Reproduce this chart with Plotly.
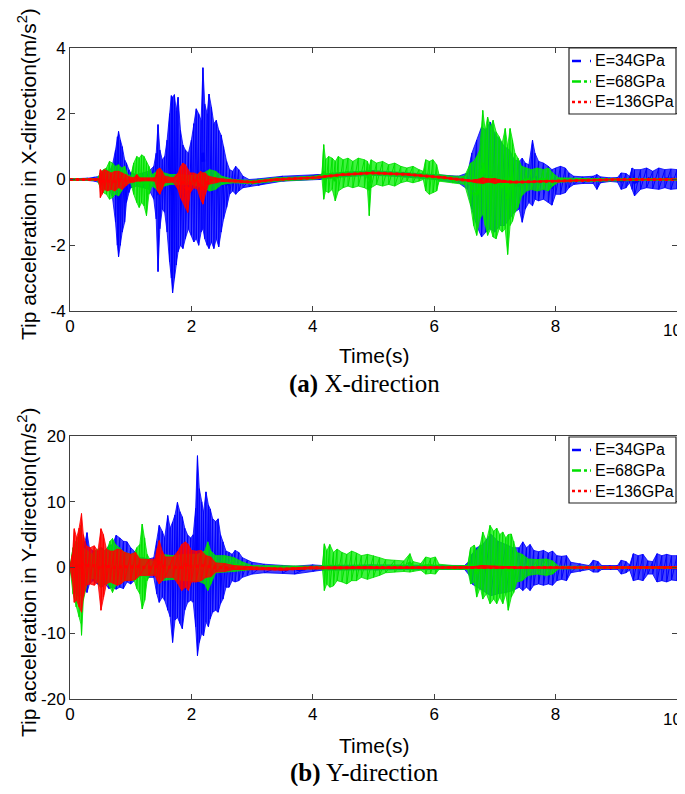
import plotly.graph_objects as go

# ---------------- data ----------------
# each row: (time s, upper envelope, lower envelope)
SERIES_NAMES = ["E=34GPa", "E=68GPa", "E=136GPa"]
X_TICKS = [0, 2, 4, 6, 8, 10]
X_TICK_TEXT = ["0", "2", "4", "6", "8", "10"]
YA_TICKS = [-4, -2, 0, 2, 4]
YA_TICK_TEXT = ["-4", "-2", "0", "2", "4"]
YB_TICKS = [-20, -10, 0, 10, 20]
YB_TICK_TEXT = ["-20", "-10", "0", "10", "20"]

X34 = [
    (0.00, 0.02, -0.02), (0.30, 0.04, -0.03), (0.40, 0.07, -0.05), (0.50, 0.10, -0.10),
    (0.55, 0.25, -0.20), (0.60, 0.30, -0.35), (0.65, 0.25, -0.30), (0.70, 0.45, -0.55),
    (0.75, 0.90, -1.30), (0.78, 1.30, -2.00), (0.80, 1.46, -2.35), (0.83, 1.20, -2.00),
    (0.86, 1.00, -1.60), (0.90, 0.60, -1.30), (0.93, 0.50, -0.70), (0.97, 0.30, -0.40),
    (1.00, 0.20, -0.25), (1.10, 0.15, -0.20), (1.20, 0.20, -0.25), (1.30, 0.25, -0.30),
    (1.38, 0.40, -0.60), (1.42, 0.80, -1.20), (1.45, 1.67, -2.80), (1.48, 0.90, -1.50),
    (1.52, 0.60, -0.90), (1.56, 0.70, -1.00), (1.60, 1.20, -1.60), (1.64, 2.00, -2.50),
    (1.67, 2.55, -3.00), (1.69, 2.50, -3.45), (1.72, 2.58, -3.00), (1.75, 2.10, -2.60),
    (1.78, 2.50, -2.20), (1.82, 1.50, -2.00), (1.86, 1.05, -2.10), (1.90, 0.90, -1.80),
    (1.95, 0.80, -1.50), (2.00, 1.20, -1.70), (2.04, 1.70, -1.90), (2.08, 2.15, -1.80),
    (2.12, 2.00, -2.00), (2.16, 1.80, -1.60), (2.19, 3.40, -1.50), (2.22, 2.30, -1.80),
    (2.26, 2.00, -2.00), (2.29, 2.60, -2.10), (2.33, 2.20, -1.90), (2.37, 1.70, -2.10),
    (2.41, 1.80, -1.80), (2.45, 1.50, -2.05), (2.49, 1.35, -1.60), (2.53, 1.00, -1.20),
    (2.58, 0.55, -0.85), (2.63, 0.30, -0.45), (2.68, 0.25, -0.35), (2.73, 0.40, -0.45),
    (2.78, 0.30, -0.35), (2.85, 0.10, -0.25), (2.95, 0.00, -0.22), (3.10, 0.02, -0.18),
    (3.50, 0.10, -0.05), (4.10, 0.15, 0.00), (4.50, 0.22, 0.08), (5.00, 0.27, 0.13),
    (5.50, 0.22, 0.08), (6.00, 0.15, 0.00), (6.40, 0.10, -0.10), (6.55, 0.20, -0.30),
    (6.62, 0.80, -0.90), (6.70, 1.20, -1.40), (6.78, 1.60, -1.75), (6.85, 1.50, -1.60),
    (6.92, 1.75, -1.50), (7.00, 1.40, -1.60), (7.08, 1.20, -1.40), (7.16, 1.00, -1.40),
    (7.24, 0.90, -1.20), (7.32, 0.60, -1.00), (7.40, 0.55, -0.90), (7.45, 0.65, -1.30),
    (7.50, 0.50, -0.90), (7.56, 0.45, -0.70), (7.62, 1.20, -0.80), (7.66, 0.80, -0.60),
    (7.72, 0.55, -0.65), (7.80, 0.50, -0.60), (7.88, 0.40, -0.70), (7.94, 0.30, -0.78),
    (8.00, 0.35, -0.45), (8.08, 0.40, -0.45), (8.16, 0.35, -0.40), (8.22, 0.20, -0.25),
    (8.30, 0.10, -0.15), (8.45, 0.08, -0.12), (8.62, 0.10, -0.12), (8.68, 0.15, -0.30),
    (8.74, 0.08, -0.10), (8.90, 0.05, -0.06), (9.02, 0.06, -0.08), (9.08, 0.20, -0.30),
    (9.16, 0.18, -0.25), (9.22, 0.10, -0.10), (9.26, 0.35, -0.30), (9.30, 0.30, -0.50),
    (9.40, 0.30, -0.30), (9.50, 0.35, -0.25), (9.60, 0.25, -0.28), (9.70, 0.35, -0.30),
    (9.80, 0.30, -0.25), (9.90, 0.32, -0.30), (10.0, 0.30, -0.28),
]

X68 = [
    (0.00, 0.02, -0.02), (0.45, 0.03, -0.03), (0.50, 0.20, -0.25), (0.55, 0.30, -0.40),
    (0.60, 0.35, -0.45), (0.65, 0.55, -0.60), (0.70, 0.50, -0.55), (0.75, 0.40, -0.45),
    (0.80, 0.45, -0.50), (0.85, 0.35, -0.35), (0.90, 0.40, -0.15), (0.95, 0.15, -0.12),
    (1.00, 0.10, -0.10), (1.05, 0.50, -0.45), (1.10, 0.70, -0.70), (1.14, 0.65, -0.85),
    (1.18, 0.75, -0.70), (1.22, 0.70, -0.80), (1.26, 0.55, -1.10), (1.30, 0.40, -0.45),
    (1.35, 0.15, -0.20), (1.40, 0.20, -0.25), (1.45, 0.30, -0.35), (1.50, 0.30, -0.30),
    (1.55, 0.20, -0.20), (1.65, 0.15, -0.15), (1.80, 0.15, -0.15), (2.00, 0.12, -0.15),
    (2.20, 0.20, -0.25), (2.30, 0.30, -0.35), (2.40, 0.25, -0.30), (2.50, 0.10, -0.15),
    (2.70, 0.00, -0.10), (3.00, -0.03, -0.13), (3.40, 0.05, -0.05), (4.00, 0.10, 0.00),
    (4.15, 0.15, 0.05), (4.18, 1.06, -0.60), (4.21, 0.60, -0.35), (4.26, 0.70, -0.40),
    (4.32, 0.65, -0.30), (4.37, 0.55, -0.65), (4.42, 0.70, -0.35), (4.50, 0.60, -0.25),
    (4.58, 0.65, -0.20), (4.66, 0.55, -0.25), (4.75, 0.65, -0.20), (4.85, 0.60, -0.25),
    (4.90, 0.55, -0.30), (4.93, 0.40, -1.10), (4.96, 0.60, -0.25), (5.05, 0.50, -0.15),
    (5.15, 0.55, -0.20), (5.25, 0.45, -0.15), (5.35, 0.50, -0.20), (5.45, 0.40, -0.10),
    (5.55, 0.35, -0.05), (5.65, 0.40, -0.10), (5.75, 0.30, -0.05), (5.82, 0.25, 0.00),
    (5.86, 0.60, -0.35), (5.92, 0.55, -0.45), (5.98, 0.60, -0.40), (6.04, 0.45, -0.35),
    (6.08, 0.15, -0.05), (6.30, 0.10, -0.10), (6.50, 0.10, -0.15), (6.60, 0.50, -0.80),
    (6.65, 0.55, -1.40), (6.70, 0.70, -1.70), (6.75, 0.90, -1.20), (6.80, 2.10, -1.05),
    (6.84, 1.50, -1.40), (6.88, 1.90, -1.70), (6.93, 1.60, -1.50), (6.97, 1.80, -1.75),
    (7.02, 1.45, -1.80), (7.07, 1.30, -1.50), (7.12, 1.10, -1.60), (7.17, 1.55, -1.50),
    (7.21, 1.00, -2.28), (7.25, 1.55, -1.40), (7.29, 1.20, -1.27), (7.33, 0.80, -1.00),
    (7.38, 0.65, -0.85), (7.44, 0.40, -0.50), (7.52, 0.35, -0.35), (7.60, 0.30, -0.30),
    (7.70, 0.35, -0.35), (7.80, 0.30, -0.30), (7.88, 0.35, -0.35), (7.95, 0.20, -0.20),
    (8.05, 0.05, -0.08), (8.50, 0.03, -0.05), (10.0, 0.02, -0.02),
]

X136 = [
    (0.00, 0.01, -0.01), (0.48, 0.02, -0.02), (0.50, 0.30, -0.55), (0.53, 0.25, -0.45),
    (0.57, 0.30, -0.30), (0.62, 0.25, -0.35), (0.68, 0.20, -0.30), (0.74, 0.25, -0.35),
    (0.80, 0.25, -0.25), (0.86, 0.20, -0.30), (0.92, 0.15, -0.20), (0.98, 0.08, -0.10),
    (1.05, 0.05, -0.08), (1.10, 0.15, -0.05), (1.15, 0.05, -0.05), (1.30, 0.04, -0.04),
    (1.40, 0.05, -0.05), (1.44, 0.30, -0.35), (1.48, 0.35, -0.45), (1.52, 0.25, -0.30),
    (1.56, 0.10, -0.10), (1.70, 0.05, -0.08), (1.78, 0.20, -0.30), (1.82, 0.40, -0.55),
    (1.86, 0.50, -0.65), (1.90, 0.45, -0.85), (1.94, 0.30, -1.00), (1.98, 0.20, -0.40),
    (2.04, 0.20, -0.25), (2.10, 0.15, -0.30), (2.15, 0.25, -0.60), (2.19, 0.20, -0.75),
    (2.23, 0.20, -0.45), (2.28, 0.10, -0.15), (2.40, 0.05, -0.10), (2.50, 0.02, -0.06),
    (2.80, -0.03, -0.08), (3.00, -0.06, -0.10), (3.40, 0.02, -0.02), (4.00, 0.07, 0.03),
    (4.50, 0.17, 0.13), (5.00, 0.22, 0.18), (5.60, 0.17, 0.13), (6.20, 0.07, 0.03),
    (6.60, -0.02, -0.06), (6.70, 0.00, -0.10), (6.80, 0.05, -0.12), (6.90, 0.02, -0.08),
    (7.00, 0.03, -0.12), (7.10, -0.02, -0.08), (7.30, -0.06, -0.10), (8.00, -0.03, -0.07),
    (8.50, -0.01, -0.04), (9.00, 0.01, -0.01), (10.0, 0.01, -0.01),
]

Y34 = [
    (0.00, 0.1, -0.1), (0.05, 2.0, -2.0), (0.10, 3.5, -4.0), (0.15, 4.0, -4.5),
    (0.20, 3.5, -4.0), (0.25, 4.0, -3.5), (0.28, 5.3, -3.8), (0.32, 3.0, -2.5),
    (0.38, 2.5, -2.0), (0.45, 2.5, -2.5), (0.52, 3.0, -3.0), (0.58, 2.5, -2.5),
    (0.64, 3.3, -3.2), (0.70, 3.5, -3.0), (0.76, 4.9, -3.3), (0.82, 4.5, -3.0),
    (0.88, 4.0, -3.2), (0.94, 3.9, -2.2), (1.00, 3.0, -2.5), (1.06, 2.5, -2.0),
    (1.12, 1.5, -1.5), (1.20, 1.5, -1.2), (1.30, 1.3, -1.5), (1.38, 1.5, -1.5),
    (1.43, 4.0, -4.0), (1.47, 6.4, -5.3), (1.52, 5.5, -4.5), (1.56, 4.5, -5.0),
    (1.61, 7.9, -6.5), (1.65, 6.0, -7.5), (1.69, 6.9, -11.4), (1.73, 8.0, -8.0),
    (1.77, 9.9, -7.6), (1.81, 8.5, -8.5), (1.85, 7.7, -9.3), (1.89, 6.0, -6.5),
    (1.94, 4.9, -5.3), (1.99, 4.5, -5.0), (2.03, 5.0, -5.3), (2.07, 9.0, -9.0),
    (2.10, 17.0, -13.4), (2.13, 12.0, -11.4), (2.17, 10.0, -10.0), (2.20, 8.4, -10.4),
    (2.24, 11.5, -8.3), (2.28, 9.5, -9.0), (2.31, 8.9, -7.8), (2.35, 7.4, -6.8),
    (2.40, 7.0, -6.5), (2.44, 7.4, -6.8), (2.48, 5.0, -5.5), (2.52, 3.9, -4.8),
    (2.57, 2.5, -3.0), (2.62, 2.3, -3.0), (2.67, 2.0, -2.0), (2.72, 2.6, -2.2),
    (2.78, 2.3, -2.0), (2.84, 1.5, -1.5), (2.92, 1.1, -1.2), (3.00, 0.8, -1.0),
    (3.20, 0.5, -0.8), (3.50, 0.3, -0.9), (3.70, 0.2, -1.0), (4.00, 0.4, -0.6),
    (4.15, 0.3, -0.4), (5.00, 0.4, -0.4), (6.00, 0.3, -0.3), (6.50, 0.3, -0.3),
    (6.58, 1.0, -1.2), (6.62, 2.0, -2.5), (6.70, 3.0, -3.0), (6.80, 3.5, -3.5),
    (6.93, 5.1, -4.3), (7.05, 4.0, -4.0), (7.18, 3.5, -3.8), (7.30, 3.0, -3.5),
    (7.40, 3.0, -3.0), (7.46, 3.9, -3.5), (7.52, 3.0, -3.0), (7.58, 3.5, -3.5),
    (7.64, 2.6, -2.7), (7.72, 2.4, -2.5), (7.80, 2.6, -2.7), (7.88, 2.2, -2.5),
    (7.95, 2.5, -2.7), (8.02, 1.8, -2.0), (8.10, 1.7, -1.8), (8.18, 1.8, -2.0),
    (8.25, 0.8, -0.8), (8.40, 0.6, -0.6), (8.55, 0.3, -0.3), (8.62, 1.1, -0.7),
    (8.70, 0.9, -0.7), (8.76, 0.3, -0.3), (8.90, 0.3, -0.3), (9.02, 0.3, -0.3),
    (9.08, 1.1, -1.0), (9.16, 0.9, -0.8), (9.22, 0.4, -0.4), (9.28, 2.1, -2.0),
    (9.36, 1.8, -1.8), (9.44, 2.0, -2.0), (9.52, 1.0, -1.0), (9.60, 0.9, -1.0),
    (9.67, 2.1, -2.2), (9.75, 1.8, -2.0), (9.83, 2.0, -2.2), (9.91, 1.8, -1.9),
    (10.0, 1.8, -2.0),
]

Y68 = [
    (0.00, 0.1, -0.1), (0.05, 3.0, -4.0), (0.10, 4.0, -6.0), (0.15, 5.0, -7.5),
    (0.18, 6.4, -8.6), (0.19, 5.0, -10.3), (0.22, 3.0, -5.0), (0.28, 2.6, -2.5),
    (0.35, 2.0, -1.7), (0.42, 2.6, -1.7), (0.50, 3.0, -3.0), (0.56, 2.5, -2.5),
    (0.62, 3.0, -2.5), (0.66, 4.0, -3.0), (0.70, 4.4, -3.8), (0.75, 3.5, -2.8),
    (0.82, 3.0, -2.5), (0.90, 2.3, -2.0), (1.00, 2.0, -1.8), (1.06, 2.2, -2.0),
    (1.10, 3.0, -3.2), (1.15, 3.5, -4.0), (1.19, 6.6, -6.3), (1.23, 4.5, -5.0),
    (1.27, 2.0, -2.0), (1.33, 1.0, -1.0), (1.40, 1.0, -1.0), (1.50, 2.0, -2.0),
    (1.70, 1.8, -1.8), (1.90, 2.0, -2.0), (2.10, 2.0, -2.0), (2.22, 2.5, -2.5),
    (2.27, 3.9, -3.5), (2.32, 2.5, -2.5), (2.40, 1.8, -0.8), (2.55, 1.8, -0.7),
    (2.70, 1.5, -0.6), (2.85, 0.8, -0.5), (3.00, 0.3, -0.3), (4.10, 0.2, -0.2),
    (4.16, 0.3, -0.3), (4.19, 3.6, -3.5), (4.23, 2.5, -2.5), (4.28, 3.5, -3.0),
    (4.34, 2.3, -2.8), (4.40, 2.8, -2.0), (4.48, 2.3, -2.2), (4.56, 2.0, -2.5),
    (4.64, 2.5, -2.0), (4.72, 2.2, -2.0), (4.80, 1.8, -1.5), (4.90, 2.0, -1.8),
    (5.00, 1.8, -1.5), (5.10, 1.5, -1.2), (5.20, 1.2, -0.8), (5.35, 1.1, -0.7),
    (5.50, 1.0, -0.6), (5.60, 2.1, -0.7), (5.65, 0.9, -0.6), (5.78, 0.6, -0.4),
    (5.86, 1.6, -1.0), (5.94, 1.4, -0.9), (6.02, 1.6, -1.0), (6.08, 0.5, -0.3),
    (6.30, 0.3, -0.3), (6.55, 0.3, -0.3), (6.60, 3.0, -2.5), (6.66, 3.4, -2.2),
    (6.70, 2.5, -4.5), (6.76, 3.5, -3.0), (6.80, 5.4, -4.8), (6.86, 4.0, -4.0),
    (6.92, 6.4, -5.5), (6.98, 5.5, -4.8), (7.03, 6.0, -5.5), (7.08, 5.0, -4.5),
    (7.13, 5.4, -5.5), (7.18, 4.5, -4.0), (7.22, 5.0, -6.5), (7.27, 5.1, -4.5),
    (7.31, 4.0, -3.8), (7.36, 2.3, -2.2), (7.45, 2.0, -2.0), (7.55, 1.3, -1.2),
    (7.70, 1.2, -1.0), (7.85, 1.3, -1.2), (7.95, 1.0, -1.0), (8.05, 0.2, -0.2),
    (10.0, 0.1, -0.1),
]

Y136 = [
    (0.00, 0.1, -0.1), (0.04, 2.0, -2.0), (0.07, 5.9, -5.3), (0.11, 4.5, -5.0),
    (0.15, 6.0, -6.0), (0.19, 8.2, -6.8), (0.22, 5.0, -4.5), (0.27, 3.3, -2.7),
    (0.33, 3.0, -2.5), (0.40, 3.3, -2.7), (0.46, 2.5, -2.2), (0.51, 5.9, -6.5),
    (0.55, 5.0, -4.5), (0.60, 2.8, -2.5), (0.66, 2.5, -2.2), (0.72, 2.5, -2.5),
    (0.78, 2.8, -2.7), (0.84, 2.7, -2.5), (0.90, 2.3, -2.0), (1.00, 2.0, -2.0),
    (1.08, 2.3, -1.8), (1.15, 1.3, -1.2), (1.30, 1.2, -1.2), (1.40, 1.3, -1.2),
    (1.44, 3.0, -2.0), (1.47, 4.1, -2.5), (1.52, 2.5, -2.0), (1.57, 1.6, -1.5),
    (1.70, 1.6, -1.5), (1.78, 2.5, -2.5), (1.84, 3.5, -3.5), (1.90, 3.9, -3.0),
    (1.95, 3.5, -3.5), (2.00, 2.6, -2.2), (2.08, 2.5, -2.2), (2.16, 2.6, -2.0),
    (2.24, 1.8, -1.5), (2.32, 1.6, -1.4), (2.40, 0.7, -0.7), (2.55, 0.6, -0.6),
    (2.70, 0.3, -0.3), (3.00, 0.1, -0.3), (3.50, -0.1, -0.4), (4.00, 0.1, -0.2),
    (5.00, 0.1, -0.1), (6.60, 0.1, -0.1), (6.80, 0.3, -0.1), (7.00, 0.2, -0.1),
    (7.30, 0.1, -0.1), (10.0, 0.1, -0.1),
]

COLORS = ["#0000FF", "#00E000", "#FF0000"]
FILLS = ["rgba(0,0,255,0.75)", "rgba(0,238,0,0.75)", "rgba(255,0,0,0.8)"]
DASHES = ["dash", "dashdot", "dot"]
MEAN_WIDTH = [2.5, 2.5, 3]

# ---------------- figure ----------------
# the page has an 8 px body margin, so the figure is laid out 8 px in from the window
OFF = 8
W, H = 685 - OFF, 794 - 2 * OFF
fig = go.Figure()


def px_x(v):
    return (v - OFF) / W


def px_y(v):
    return 1 - (v - OFF) / H


X_DOM = [px_x(70), px_x(677)]
TOP_DOM = [px_y(311), px_y(48)]
BOT_DOM = [px_y(699), px_y(436)]


def add_series(rows, idx, xa, ya):
    t = [r[0] for r in rows]
    hi = [r[1] for r in rows]
    lo = [r[2] for r in rows]
    mid = [(a + b) / 2 for a, b in zip(hi, lo)]
    # envelope band
    fig.add_trace(go.Scatter(
        x=t + t[::-1], y=hi + lo[::-1], mode="lines", fill="toself",
        fillcolor=FILLS[idx], line=dict(color=COLORS[idx], width=0.8),
        xaxis=xa, yaxis=ya, showlegend=False, hoverinfo="skip"))
    # oscillation: swing from upper to lower envelope at each sample
    zx, zy = [], []
    for ti, a, b in rows:
        zx += [ti, ti]
        zy += [a, b]
    fig.add_trace(go.Scatter(
        x=zx, y=zy, mode="lines", line=dict(color=COLORS[idx], width=1),
        xaxis=xa, yaxis=ya, showlegend=False, hoverinfo="skip"))
    # mean line with the series line style
    fig.add_trace(go.Scatter(
        x=t, y=mid, mode="lines", name=SERIES_NAMES[idx],
        line=dict(color=COLORS[idx], width=MEAN_WIDTH[idx], dash=DASHES[idx]),
        xaxis=xa, yaxis=ya, showlegend=False))


for i, rows in enumerate([X34, X68, X136]):
    add_series(rows, i, "x", "y")
for i, rows in enumerate([Y34, Y68, Y136]):
    add_series(rows, i, "x2", "y2")

TICK_FONT = dict(family="Liberation Sans, Arial", size=17, color="black")
axis_common = dict(
    showline=True, linecolor="#404040", linewidth=1, mirror="ticks",
    ticks="inside", ticklen=5, tickcolor="#404040", showgrid=False,
    zeroline=False, automargin=False, tickfont=TICK_FONT,
)

fig.update_layout(
    width=W, height=H, margin=dict(l=0, r=0, t=0, b=0),
    paper_bgcolor="white", plot_bgcolor="white", showlegend=False,
    xaxis=dict(domain=X_DOM, anchor="y", range=[0, 10], tickvals=X_TICKS,
               ticktext=X_TICK_TEXT, **axis_common),
    yaxis=dict(domain=TOP_DOM, anchor="x", range=[-4, 4], tickvals=YA_TICKS,
               ticktext=YA_TICK_TEXT, **axis_common),
    xaxis2=dict(domain=X_DOM, anchor="y2", range=[0, 10], tickvals=X_TICKS,
                ticktext=X_TICK_TEXT, **axis_common),
    yaxis2=dict(domain=BOT_DOM, anchor="x2", range=[-20, 20], tickvals=YB_TICKS,
                ticktext=YB_TICK_TEXT, **axis_common),
)

# last x tick label sits on the window edge (plotly drops it); draw it beside its tick
for xa, ya_px in (("x", 331), ("x2", 719)):
    fig.add_annotation(text=X_TICK_TEXT[-1], xref=xa, x=X_TICKS[-1], yref="paper",
                       y=px_y(ya_px), xanchor="right", yanchor="middle", xshift=7,
                       showarrow=False, font=TICK_FONT)

# ---------------- legends (boxed, top-right of each panel) ----------------
LEG_FONT = dict(family="Liberation Sans, Arial", size=16, color="black")


def add_legend(top_px):
    left, right, height = 569, 676, 66
    fig.add_shape(type="rect", xref="paper", yref="paper",
                  x0=px_x(left), x1=px_x(right), y0=px_y(top_px + height), y1=px_y(top_px),
                  line=dict(color="#222222", width=1.2), fillcolor="white", layer="above")
    for k, name in enumerate(SERIES_NAMES):
        yc = top_px + 13 + k * 20.5
        fig.add_shape(type="line", xref="paper", yref="paper",
                      x0=px_x(572), x1=px_x(591), y0=px_y(yc), y1=px_y(yc),
                      line=dict(color=COLORS[k], width=2.5, dash=DASHES[k]), layer="above")
        fig.add_annotation(text=name, xref="paper", yref="paper", x=px_x(593), y=px_y(yc),
                           xanchor="left", yanchor="middle", showarrow=False, font=LEG_FONT)


add_legend(48)
add_legend(437)

sans = dict(family="Liberation Sans, Arial", size=21, color="black")
serif = dict(family="Liberation Serif, Times New Roman", size=25, color="black")
ann = [
    dict(text="Time(s)", x=px_x(374), y=px_y(355), font=sans),
    dict(text="Time(s)", x=px_x(374), y=px_y(745), font=sans),
    dict(text="<b>(a)</b> X-direction", x=px_x(364), y=px_y(384), font=serif),
    dict(text="<b>(b)</b> Y-direction", x=px_x(364), y=px_y(773), font=serif),
    dict(text="Tip acceleration in X-direction(m/s<sup>2</sup>)", x=px_x(27),
         y=px_y(174), textangle=-90, font=sans),
    dict(text="Tip acceleration in Y-direction(m/s<sup>2</sup>)", x=px_x(27),
         y=px_y(572), textangle=-90, font=sans),
]
for a in ann:
    fig.add_annotation(xref="paper", yref="paper", showarrow=False,
                       xanchor="center", yanchor="middle", **a)

fig.write_html("out.html")
